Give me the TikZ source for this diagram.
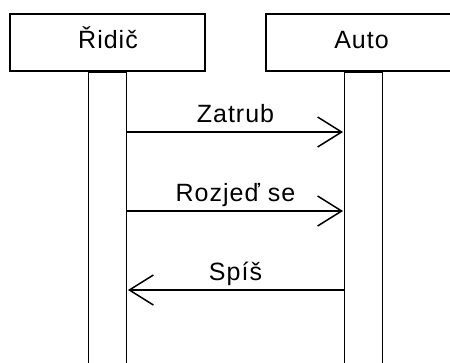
\documentclass[tikz,border=0pt]{standalone}
\usepackage{fontspec}
\setmainfont{Liberation Sans}[LetterSpace=4]
\usetikzlibrary{arrows.meta}
\begin{document}
\begin{tikzpicture}[x=1pt,y=-1pt,
  line width=1.5pt,
  actor/.style={draw, rectangle, minimum width=195pt, minimum height=57pt, inner sep=0pt},
  lifebar/.style={draw, rectangle, anchor=north, minimum width=38pt, minimum height=300pt, inner sep=0pt},
  actorname/.style={anchor=base, font=\fontsize{25}{28}\selectfont, inner sep=0pt},
  msg/.style={-{Straight Barb[length=24pt,width=30pt,line width=1.5pt]}, shorten >=0.7pt},
  msglabel/.style={anchor=base, font=\fontsize{25}{28}\selectfont, inner sep=0pt, yshift=9.5pt}]
  \useasboundingbox (0,0) rectangle (450,362);
  \clip (0,0) rectangle (450,362);

  % participants
  \node[actor] (ridic) at (107.5,42.5) {};
  \node[actor] (auto) at (363.5,42.5) {};
  \node[actorname] (ridicname) at (108,48.5) {Řidič};
  \node[actorname] (autoname) at (361.5,48.5) {Auto};

  % activation bars
  \node[lifebar] (ridicbar) at (ridic.south) {};
  \node[lifebar] (autobar) at (auto.south) {};

  % message rows
  \coordinate (row1) at (0,132);
  \coordinate (row2) at (0,211);
  \coordinate (row3) at (0,290);

  \draw[msg] (ridicbar.east |- row1) -- (autobar.west |- row1)
    node[msglabel, midway] (m1) {Zatrub};
  \draw[msg] (ridicbar.east |- row2) -- (autobar.west |- row2)
    node[msglabel, midway] (m2) {Rozjeď se};
  \draw[msg] (autobar.west |- row3) -- (ridicbar.east |- row3)
    node[msglabel, midway] (m3) {Spíš};
\end{tikzpicture}
\end{document}
